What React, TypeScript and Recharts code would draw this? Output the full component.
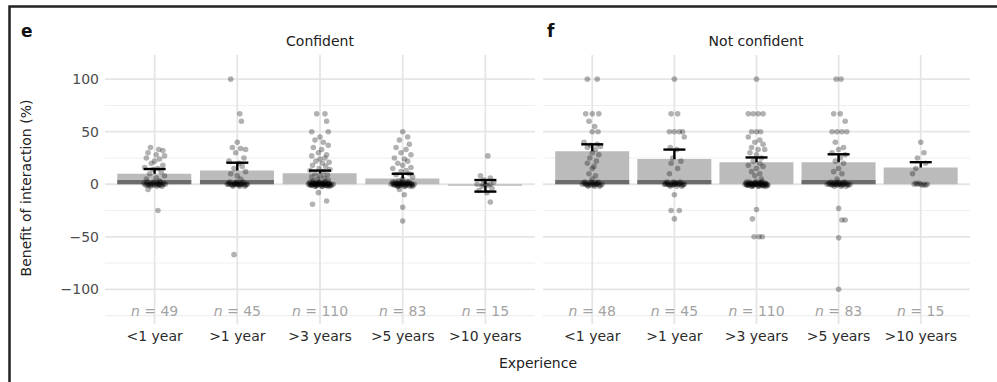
import { ComposedChart, Bar, Scatter, ErrorBar, XAxis, YAxis, CartesianGrid } from 'recharts'

const experience = ['<1 year', '>1 year', '>3 years', '>5 years', '>10 years']
const yTicks = [-100, -50, 0, 50, 100]
const yMinorTicks = [-125, -75, -25, 25, 75]
const xTicks = [0, 1, 2, 3, 4]

// Confident
const confidentN = [49, 45, 110, 83, 15]
const confidentMean = [10, 13, 10.5, 5.5, -1.5]
const confidentMedian = [4, 4, 0, 0, 0]
const confidentSe = [4.5, 7.5, 2.5, 4.5, 5.5]

// Not confident
const notConfidentN = [48, 45, 110, 83, 15]
const notConfidentMean = [31.5, 24, 21, 21, 16]
const notConfidentMedian = [4, 4, 0, 4, 0]
const notConfidentSe = [6.5, 9, 4.5, 7.5, 5]

// answers of zero overlap into a black blob, [jitter, value]
const zeroSmall: [number, number][] = [
  [-0.09, 2], [-0.05, -2], [-0.01, 2], [0.03, -2], [0.07, 2], [0.09, -2], [-0.07, 0], [0.05, 0],
]
const zeroMedium: [number, number][] = [
  [-0.09, 2], [-0.05, -2], [-0.01, 2], [0.03, -2], [0.07, 2], [0.09, -2], [-0.07, 0], [0.05, 0],
  [-0.03, 0], [0.01, 0], [-0.11, 0], [0.11, 0],
]
const zeroLarge: [number, number][] = [
  [-0.09, 2], [-0.05, -2], [-0.01, 2], [0.03, -2], [0.07, 2], [0.09, -2], [-0.07, 0], [0.05, 0],
  [-0.03, 0], [0.01, 0], [-0.11, 0], [0.11, 0], [-0.08, 1], [-0.04, -1], [0.0, 2], [0.04, 1],
  [0.08, -1], [-0.06, -2], [-0.02, 1], [0.02, -2], [0.06, 2], [-0.1, -1], [0.1, 1], [-0.12, 2], [0.12, -2],
]

// individual answers, [jitter, value] per experience group
const confidentPoints: [number, number][][] = [
  [[-0.05, 35], [0.05, 33], [0.1, 32], [-0.08, 30], [0.02, 28], [0.12, 27], [-0.1, 25], [0.06, 24], [0.0, 22], [-0.04, 20],
   [0.1, 18], [-0.12, 16], [0.04, 15], [-0.02, 14], [0.08, 12], [-0.06, 10], [0.12, 8], [0.02, 6], [-0.1, 5], [0.06, 3],
   [-0.1, 0], [-0.06, 0], [-0.02, 0], [0.02, 0], [0.06, 0], [0.1, 0], [0.13, 0], [-0.13, 1], [0.0, -1], [-0.04, 1],
   [-0.08, -1], [-0.04, -1], [0.04, 1], [0.08, -1], [0.11, 1], [-0.11, -1], [0.0, 1], [0.05, -1],
   [-0.08, -5], [0.04, -25], ...zeroSmall],
  [[-0.08, 100], [0.03, 67], [0.05, 60], [0.0, 40], [-0.06, 35], [0.04, 34], [0.1, 33], [-0.02, 30], [0.08, 25], [-0.1, 22],
   [0.02, 20], [0.06, 17], [-0.04, 15], [0.1, 12], [-0.08, 10], [0.0, 8], [0.04, 5],
   [-0.12, 0], [-0.08, 0], [-0.04, 0], [0.0, 0], [0.04, 0], [0.08, 0], [0.12, 0], [0.0, 1],
   [-0.1, 1], [-0.06, -1], [-0.02, 1], [0.02, -1], [0.06, 1], [0.1, -1], [-0.03, 0], [0.03, 0],
   [-0.04, -67], ...zeroMedium],
  [[0.06, 67], [-0.04, 67], [0.08, 60], [-0.1, 50], [0.1, 50], [0.0, 45], [-0.06, 42], [0.04, 40], [0.1, 37], [-0.08, 35],
   [0.02, 33], [-0.02, 30], [0.08, 28], [-0.1, 27], [0.06, 25], [0.0, 24], [-0.05, 22], [0.11, 21], [0.03, 20], [-0.09, 18],
   [0.07, 17], [-0.01, 15], [0.12, 14], [-0.12, 13], [0.04, 12], [-0.06, 10], [0.09, 9], [0.0, 8], [-0.1, 7], [0.05, 6],
   [-0.03, 5], [0.1, 4], [-0.08, 3],
   [-0.14, 0], [-0.11, 0], [-0.08, 0], [-0.05, 0], [-0.02, 0], [0.01, 0], [0.04, 0], [0.07, 0], [0.1, 0], [0.13, 0],
   [0.16, 0], [-0.06, 1], [0.06, -1],
   [-0.13, 1], [-0.1, -1], [-0.07, 1], [-0.04, -1], [-0.01, 1], [0.02, -1], [0.05, 1], [0.08, -1], [0.11, 1], [0.14, -1],
   [-0.12, -1], [-0.03, 1], [0.03, 1], [0.12, -1],
   [-0.09, -19], [0.08, -16], [-0.02, -8], ...zeroLarge],
  [[0.0, 50], [0.06, 45], [-0.04, 42], [0.08, 38], [-0.08, 35], [0.04, 33], [-0.02, 30], [0.1, 28], [-0.1, 25], [0.02, 24],
   [0.06, 22], [-0.06, 20], [0.0, 18], [0.1, 16], [-0.12, 15], [0.04, 13], [-0.02, 12], [0.08, 10], [-0.08, 9], [0.12, 7],
   [0.0, 5], [-0.05, 3],
   [-0.14, 0], [-0.1, 0], [-0.06, 0], [-0.02, 0], [0.02, 0], [0.06, 0], [0.1, 0], [0.14, 0], [-0.04, 1], [0.04, -1],
   [-0.12, 1], [-0.08, -1], [0.0, 1], [0.08, 1], [0.12, -1], [-0.02, -1], [0.04, 1], [-0.06, 1],
   [-0.04, -5], [0.02, -10], [0.0, -22], [0.0, -35], ...zeroLarge],
  [[0.03, 27], [-0.06, 8], [0.06, 6], [-0.02, 4], [0.1, 2], [-0.1, 0], [0.0, 0], [0.06, 0], [-0.04, -2], [0.08, -4],
   [-0.08, -6], [0.02, -8], [0.06, -17], [-0.03, 0], [0.03, -1]],
]

const notConfidentPoints: [number, number][][] = [
  [[-0.06, 100], [0.06, 100], [-0.08, 67], [0.0, 67], [0.08, 67], [-0.04, 60], [0.03, 55], [0.0, 50], [0.07, 50], [-0.1, 40],
   [0.06, 38], [-0.02, 37], [0.1, 36], [-0.06, 35], [0.04, 33], [0.0, 30], [0.08, 28], [-0.03, 25], [0.05, 22], [-0.06, 20],
   [0.02, 17], [0.0, 15], [-0.04, 10], [0.04, 8], [0.0, 5],
   [-0.12, 0], [-0.08, 0], [-0.04, 0], [0.0, 0], [0.04, 0], [0.08, 0], [0.12, 0], [-0.02, 1], [0.02, -1],
   [-0.1, 1], [-0.06, -1], [0.06, 1], [0.1, -1], [-0.02, -1], [0.02, 1], ...zeroSmall],
  [[0.0, 100], [-0.04, 67], [0.04, 67], [-0.06, 50], [0.0, 50], [0.06, 50], [0.1, 50], [0.12, 45], [-0.05, 35], [0.03, 33],
   [-0.02, 25], [0.08, 22], [-0.04, 20], [0.04, 15], [-0.06, 10],
   [-0.12, 0], [-0.08, 0], [-0.04, 0], [0.0, 0], [0.04, 0], [0.08, 0], [0.12, 0], [0.0, 1],
   [-0.1, 1], [-0.06, -1], [0.06, 1], [0.1, -1], [-0.02, -1], [0.02, 1],
   [0.0, -10], [-0.04, -25], [0.06, -25], [0.0, -33], ...zeroMedium],
  [[0.0, 100], [-0.1, 67], [-0.04, 67], [0.02, 67], [0.08, 67], [-0.06, 50], [0.0, 50], [0.05, 50], [-0.1, 45], [0.04, 42],
   [-0.02, 40], [0.08, 38], [-0.06, 35], [0.02, 33], [0.1, 33], [-0.08, 30], [0.0, 28], [0.06, 25], [-0.04, 22], [0.04, 20],
   [-0.1, 18], [0.08, 17], [0.0, 15], [-0.06, 12], [0.04, 10], [-0.02, 8], [0.06, 5],
   [-0.14, 0], [-0.11, 0], [-0.08, 0], [-0.05, 0], [-0.02, 0], [0.01, 0], [0.04, 0], [0.07, 0], [0.1, 0], [0.13, 0],
   [-0.06, 1], [0.06, -1],
   [-0.13, 1], [-0.1, -1], [-0.07, 1], [-0.04, -1], [-0.01, 1], [0.02, -1], [0.05, 1], [0.08, -1], [0.11, 1], [0.14, -1],
   [-0.12, -1], [-0.03, 1], [0.03, 1], [0.12, -1],
   [0.0, -24], [-0.05, -33], [-0.03, -50], [0.03, -50], [0.07, -50], ...zeroLarge],
  [[-0.03, 100], [0.03, 100], [-0.06, 67], [0.02, 67], [0.08, 60], [-0.08, 50], [-0.02, 50], [0.04, 50], [0.1, 50], [-0.04, 40],
   [0.06, 35], [0.0, 33], [-0.08, 30], [0.08, 28], [0.02, 25], [-0.04, 22], [0.06, 20], [0.0, 15], [-0.06, 12], [0.04, 10],
   [-0.02, 5],
   [-0.14, 0], [-0.1, 0], [-0.06, 0], [-0.02, 0], [0.02, 0], [0.06, 0], [0.1, 0], [0.14, 0], [-0.04, 1], [0.04, -1],
   [-0.12, 1], [-0.08, -1], [0.0, 1], [0.08, 1], [0.12, -1], [-0.02, -1], [0.04, 1], [-0.06, 1],
   [0.0, -23], [0.04, -34], [0.08, -34], [0.0, -51], [0.0, -100], ...zeroMedium],
  [[0.0, 40], [0.04, 30], [-0.04, 25], [0.06, 20], [-0.06, 15], [-0.1, 10],
   [-0.08, 0], [-0.04, 0], [0.0, 0], [0.04, 0], [0.08, 0], [-0.02, 1], [0.02, -1], [-0.06, 1], [0.06, -1]],
]

const summary = (mean: number[], median: number[], se: number[]) =>
  experience.map((_, i) => ({ x: i, mean: mean[i], median: median[i], se: se[i] }))

const jitter = (groups: [number, number][][]) =>
  groups.flatMap((g, i) => g.map(([dx, y]) => ({ x: i + dx, y })))

const fmtY = (v: number) => (v < 0 ? `\u2212${Math.abs(v)}` : `${v}`)

function ExpTick(props: any) {
  const { x, y, payload, counts } = props
  const i = payload.value
  return (
    <g>
      <text x={x} y={y - 8} textAnchor="middle" fill="#a3a3a3" fontSize={14}>
        <tspan fontStyle="italic">n</tspan>
        <tspan> = {counts[i]}</tspan>
      </text>
      <text x={x} y={y + 17} textAnchor="middle" fill="#2b2b2b" fontSize={14}>
        {experience[i]}
      </text>
    </g>
  )
}

const Dot = (p: any) => <circle cx={p.cx} cy={p.cy} r={2.8} fill="#000" fillOpacity={0.3} />
const NoDot = () => <g />

function Panel(props: {
  width: number
  margin: { top: number; right: number; bottom: number; left: number }
  showY: boolean
  counts: number[]
  rows: { x: number; mean: number; median: number; se: number }[]
  points: { x: number; y: number }[]
}) {
  const { width, margin, showY, counts, rows, points } = props
  return (
    <ComposedChart width={width} height={382} data={rows} margin={margin}>
      <CartesianGrid horizontalValues={yMinorTicks} vertical={false} stroke="#efefef" strokeWidth={1.1} />
      <CartesianGrid horizontalValues={yTicks} verticalValues={xTicks} stroke="#e5e5e5" strokeWidth={1.8} />
      <XAxis
        type="number"
        dataKey="x"
        domain={[-0.6, 4.6]}
        ticks={xTicks}
        allowDataOverflow
        axisLine={false}
        tickLine={false}
        tickSize={0}
        tickMargin={0}
        height={30}
        interval={0}
        tick={(p: any) => <ExpTick {...p} counts={counts} />}
      />
      <XAxis xAxisId="a" type="number" dataKey="x" domain={[-0.6, 4.6]} ticks={xTicks} allowDataOverflow hide />
      <XAxis xAxisId="m" type="number" dataKey="x" domain={[-0.6, 4.6]} ticks={xTicks} allowDataOverflow hide />
      <YAxis
        type="number"
        domain={[-133, 123]}
        ticks={yTicks}
        allowDataOverflow
        hide={!showY}
        width={showY ? 105 : 0}
        axisLine={false}
        tickLine={false}
        tickSize={0}
        tickMargin={6}
        tickFormatter={fmtY}
        tick={{ fill: '#4d4d4d', fontSize: 14 }}
      />
      <Scatter data={rows} dataKey="mean" shape={NoDot} isAnimationActive={false} zIndex={250}>
        <ErrorBar dataKey="se" direction="y" width={11} stroke="#000" strokeWidth={2.4} zIndex={250} isAnimationActive={false} />
      </Scatter>
      <Bar dataKey="mean" xAxisId="a" fill="#bbbbbb" barSize={74} isAnimationActive={false} />
      <Bar dataKey="median" xAxisId="m" fill="#6c6c6c" barSize={74} isAnimationActive={false} />
      <Scatter data={points} dataKey="y" shape={Dot} isAnimationActive={false} />
    </ComposedChart>
  )
}

export default function App() {
  return (
    <div
      style={{
        position: 'absolute',
        left: 0,
        top: 0,
        width: 997,
        height: 382,
        background: '#fff',
        fontFamily: '"DejaVu Sans", sans-serif',
        overflow: 'hidden',
      }}
    >
      <svg width={997} height={382} style={{ position: 'absolute', left: 0, top: 0 }}>
        <path d="M9.5 382 L9.5 6.5 L997 6.5" fill="none" stroke="#222" strokeWidth={2.5} />
        <text x={21} y={37} fontSize={17} fontWeight="bold" fill="#111">e</text>
        <text x={547} y={37} fontSize={17} fontWeight="bold" fill="#111">f</text>
        <text x={320} y={46} fontSize={14} textAnchor="middle" fill="#222">Confident</text>
        <text x={756} y={46} fontSize={14} textAnchor="middle" fill="#222">Not confident</text>
        <text transform="translate(31,188) rotate(-90)" fontSize={14} textAnchor="middle" fill="#222">
          Benefit of interaction (%)
        </text>
        <text x={538} y={368} fontSize={14} textAnchor="middle" fill="#222">Experience</text>
      </svg>
      <div style={{ position: 'absolute', left: 0, top: 0 }}>
        <Panel
          width={535}
          margin={{ top: 55, right: 0, bottom: 28, left: 0 }}
          showY
          counts={confidentN}
          rows={summary(confidentMean, confidentMedian, confidentSe)}
          points={jitter(confidentPoints)}
        />
      </div>
      <div style={{ position: 'absolute', left: 535, top: 0 }}>
        <Panel
          width={462}
          margin={{ top: 55, right: 27, bottom: 28, left: 8 }}
          showY={false}
          counts={notConfidentN}
          rows={summary(notConfidentMean, notConfidentMedian, notConfidentSe)}
          points={jitter(notConfidentPoints)}
        />
      </div>
    </div>
  )
}
